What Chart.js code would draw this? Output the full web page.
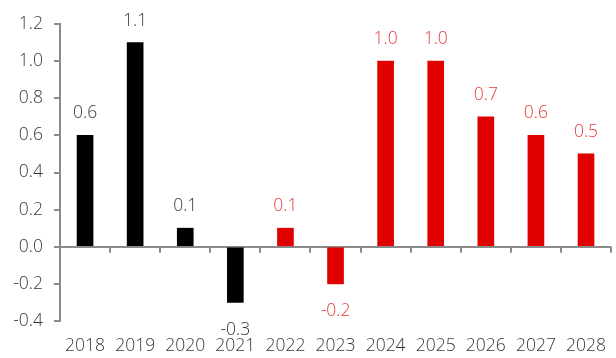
<!DOCTYPE html>
<html>
<head>
<meta charset="utf-8">
<script src="https://cdn.jsdelivr.net/npm/chart.js@4/dist/chart.umd.min.js"></script>
<style>
html,body{margin:0;padding:0;background:#fff;overflow:hidden;}
#wrap{position:relative;width:621px;height:358px;}
</style>
</head>
<body>
<div id="wrap"><canvas id="c"></canvas></div>
<script>
const categories = ['2018','2019','2020','2021','2022','2023','2024','2025','2026','2027','2028'];
const values = [0.6, 1.1, 0.1, -0.3, 0.1, -0.2, 1.0, 1.0, 0.7, 0.6, 0.5];
const isForecast = [false,false,false,false,true,true,true,true,true,true,true];
const yTicks = [-0.4,-0.2,0.0,0.2,0.4,0.6,0.8,1.0,1.2];

const BLACK = '#000000', RED = '#E00000';
const LBL_GRAY = '#383838', LBL_RED = '#E63C3C';
const AXIS = '#8a8a8a';
const FONT = "'Open Sans', 'DejaVu Sans', sans-serif";
const WEIGHT = 300;
const FSIZE = 17.5;

const valueLabels = {
  id: 'valueLabels',
  afterDatasetsDraw(chart) {
    const ctx = chart.ctx;
    const meta = chart.getDatasetMeta(0);
    ctx.save();
    ctx.font = WEIGHT + ' ' + FSIZE + 'px ' + FONT;
    ctx.textAlign = 'center';
    ctx.textBaseline = 'alphabetic';
    meta.data.forEach((bar, i) => {
      const v = values[i];
      ctx.fillStyle = isForecast[i] ? LBL_RED : LBL_GRAY;
      const txt = v.toFixed(1);
      if (v >= 0) ctx.fillText(txt, bar.x, bar.y - 17);
      else ctx.fillText(txt, bar.x, bar.y + 32.5);
    });
    ctx.restore();
  }
};

const zeroAxisTicks = {
  id: 'zeroAxisTicks',
  afterDatasetsDraw(chart) {
    const ctx = chart.ctx;
    const xs = chart.scales.x, ys = chart.scales.y;
    const y0 = ys.getPixelForValue(0);
    ctx.save();
    ctx.strokeStyle = AXIS;
    ctx.lineWidth = 2;
    ctx.beginPath();
    for (let i = 0; i < categories.length; i++) {
      const xb = Math.round((xs.getPixelForValue(i) + xs.getPixelForValue(i + 1)) / 2);
      ctx.moveTo(xb, y0);
      ctx.lineTo(xb, y0 + 6);
    }
    ctx.stroke();
    ctx.restore();
  }
};

new Chart(document.getElementById('c'), {
  type: 'bar',
  data: {
    labels: categories,
    datasets: [{
      data: values,
      backgroundColor: isForecast.map(f => f ? RED : BLACK),
      barThickness: 16,
      borderWidth: 0
    }]
  },
  options: {
    responsive: true,
    maintainAspectRatio: false,
    animation: false,
    layout: { padding: { top: 24, left: 0, right: 0, bottom: 0 } },
    plugins: { legend: { display: false }, tooltip: { enabled: false } },
    scales: {
      x: {
        position: 'bottom',
        offset: true,
        grid: { display: false, drawTicks: false },
        border: { display: false },
        ticks: { color: LBL_GRAY, font: { family: FONT, size: FSIZE, weight: WEIGHT }, padding: 15, maxRotation: 0, autoSkip: false },
        afterFit(s) { s.height = 37; }
      },
      y: {
        min: -0.4,
        max: 1.2,
        afterBuildTicks(s) { s.ticks = yTicks.map(v => ({ value: v })); },
        border: { display: true, color: AXIS, width: 2 },
        grid: {
          drawOnChartArea: true,
          drawTicks: true,
          tickLength: 6,
          color: c => (c.tick && Math.abs(c.tick.value) < 1e-9) ? AXIS : 'rgba(0,0,0,0)',
          tickColor: AXIS,
          lineWidth: 2,
          z: -1
        },
        ticks: {
          color: LBL_GRAY,
          font: { family: FONT, size: FSIZE, weight: WEIGHT },
          padding: 11,
          callback: v => Number(v).toFixed(1)
        },
        afterFit(s) { s.width = 60; }
      }
    }
  },
  plugins: [valueLabels, zeroAxisTicks]
});
</script>
</body>
</html>
